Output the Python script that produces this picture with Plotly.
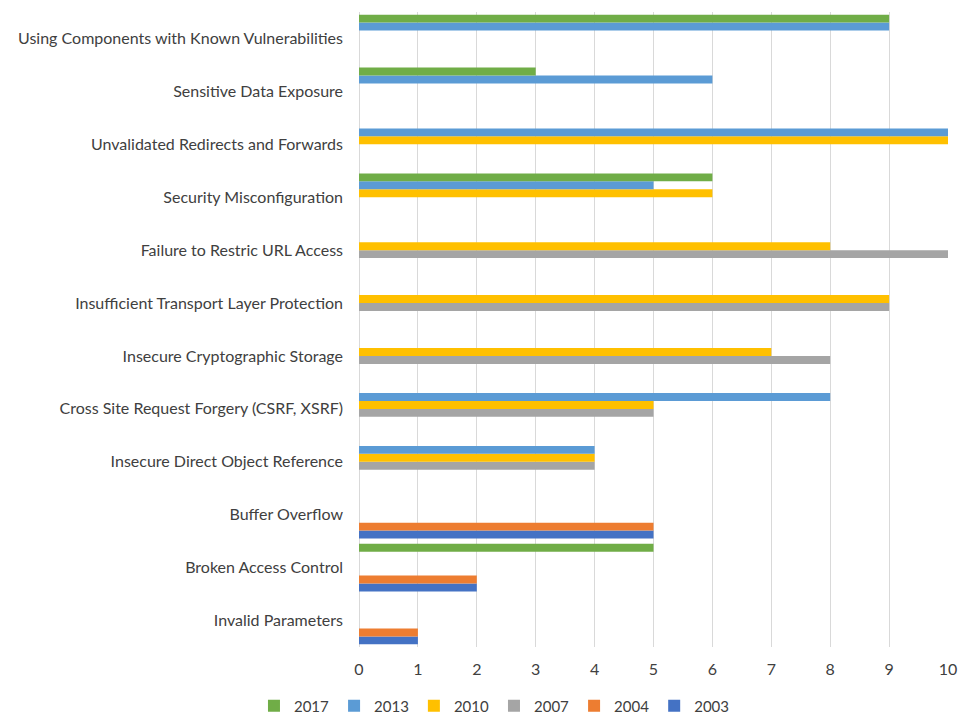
import plotly.graph_objects as go

categories = [
    "Invalid Parameters",
    "Broken Access Control",
    "Buffer Overflow",
    "Insecure Direct Object Reference",
    "Cross Site Request Forgery (CSRF, XSRF)",
    "Insecure Cryptographic Storage",
    "Insufficient Transport Layer Protection",
    "Failure to Restric URL Access",
    "Security Misconfiguration",
    "Unvalidated Redirects and Forwards",
    "Sensitive Data Exposure",
    "Using Components with Known Vulnerabilities",
]

v2003 = [1, 2, 5, None, None, None, None, None, None, None, None, None]
v2004 = [1, 2, 5, None, None, None, None, None, None, None, None, None]
v2007 = [None, None, None, 4, 5, 8, 9, 10, None, None, None, None]
v2010 = [None, None, None, 4, 5, 7, 9, 8, 6, 10, None, None]
v2013 = [None, None, None, 4, 8, None, None, None, 5, 10, 6, 9]
v2017 = [None, 5, None, None, None, None, None, None, 6, None, 3, 9]

series = [
    ("2003", v2003, "#4472C4"),
    ("2004", v2004, "#ED7D31"),
    ("2007", v2007, "#A5A5A5"),
    ("2010", v2010, "#FFC000"),
    ("2013", v2013, "#5B9BD5"),
    ("2017", v2017, "#70AD47"),
]

fig = go.Figure()
for name, vals, color in series:
    fig.add_trace(go.Bar(
        y=categories, x=vals, name=name, orientation="h",
        marker=dict(color=color, line=dict(width=0)),
    ))

FONT = "Lato, Open Sans, sans-serif"
fig.update_layout(
    width=960, height=716,
    barmode="group", bargap=0.1, bargroupgap=0,
    paper_bgcolor="white", plot_bgcolor="white",
    margin=dict(l=359, r=12, t=12, b=69, autoexpand=False),
    font=dict(family=FONT, size=16, color="#404040"),
    xaxis=dict(
        range=[0, 10], dtick=1, showgrid=True, gridcolor="#D9D9D9", gridwidth=1,
        zeroline=True, zerolinecolor="#D9D9D9", zerolinewidth=1,
        tickfont=dict(size=16, color="#404040"), ticklabelstandoff=11,
        automargin=False,
    ),
    yaxis=dict(
        categoryorder="array", categoryarray=categories,
        showgrid=False, zeroline=False, ticks="", ticklabelstandoff=15,
        tickfont=dict(size=16, color="#404040"), automargin=False,
    ),
    legend=dict(
        orientation="h", traceorder="reversed",
        yref="paper",
        x=0.23, xanchor="center", y=-0.093, yanchor="middle",
        itemwidth=30,
        font=dict(size=15, color="#404040"),
    ),
)

fig.write_html("out.html")
